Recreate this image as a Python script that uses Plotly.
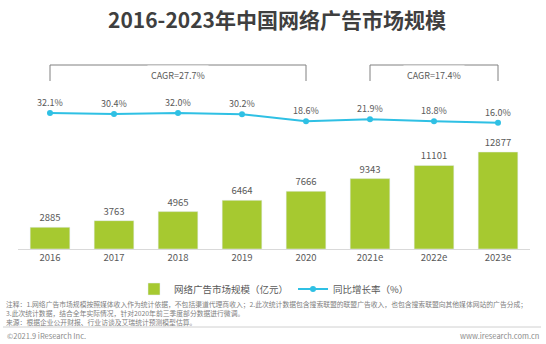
import plotly.graph_objects as go

# ---------------- data ----------------
years = ["2016", "2017", "2018", "2019", "2020", "2021e", "2022e", "2023e"]
market = [2885, 3763, 4965, 6464, 7666, 9343, 11101, 12877]
growth = [32.1, 30.4, 32.0, 30.2, 18.6, 21.9, 18.8, 16.0]
growth_labels = [f"{g:.1f}%" for g in growth]
cagr_labels = ["CAGR=27.7%", "CAGR=17.4%"]
cagr_spans = [(0, 4), (5, 7)]
title_text = "2016-2023年中国网络广告市场规模"
bar_name = "网络广告市场规模（亿元）"
line_name = "同比增长率（%）"
notes = [
    "注释：1.网络广告市场规模按照媒体收入作为统计依据，不包括渠道代理商收入；2.此次统计数据包含搜索联盟的联盟广告收入，也包含搜索联盟向其他媒体网站的广告分成；",
    "3.此次统计数据，结合全年实际情况，针对2020年前三季度部分数据进行微调。",
    "来源：根据企业公开财报、行业访谈及艾瑞统计预测模型估算。",
]
footer_left = "©2021.9 iResearch Inc."
footer_right = "www.iresearch.com.cn"

# ---------------- layout helpers ----------------
W, H = 546, 344
L, R, T, B = 18, 16, 0, 95
PW, PH = W - L - R, H - T - B
FONT = "Noto Sans CJK SC"
GRAY = "#595959"
GREEN = "#A6C930"
CYAN = "#2FC0E4"


def px(x):
    return (x - L) / PW


def py(y):
    return (H - B - y) / PH


bar_px_per_unit = 97 / 12877
y_range = [0, PH / bar_px_per_unit]
g0, gs = 132.6, 0.61  # pixel of 0%, px per %
y2_range = [(g0 - (H - B)) / gs, (g0 - T) / gs]

fig = go.Figure()
fig.add_trace(go.Bar(
    x=years, y=market, name=bar_name, marker_color=GREEN,
    text=[str(v) for v in market], textposition="outside",
    textfont=dict(size=9.5, color=GRAY, family=FONT), cliponaxis=False,
    yaxis="y",
))
fig.add_trace(go.Scatter(
    x=years, y=growth, name=line_name, mode="lines+markers+text",
    line=dict(color=CYAN, width=2), marker=dict(color=CYAN, size=6),
    text=growth_labels, textposition="top center",
    textfont=dict(size=9, color=GRAY, family=FONT), cliponaxis=False,
    yaxis="y2",
))

shapes = []
annotations = []
for (a, b), lab in zip(cagr_spans, cagr_labels):
    shapes.append(dict(type="line", xref="x", yref="paper", x0=a, x1=b,
                       y0=py(65), y1=py(65), line=dict(color="#808080", width=1)))
    for xe in (a, b):
        shapes.append(dict(type="line", xref="x", yref="paper", x0=xe, x1=xe,
                           y0=py(65), y1=py(81), line=dict(color="#808080", width=1)))
    annotations.append(dict(xref="x", yref="paper", x=(a + b) / 2, y=py(65),
                            text=lab, showarrow=False, bgcolor="white",
                            borderpad=3, font=dict(size=9, color=GRAY, family=FONT)))

annotations.append(dict(xref="paper", yref="paper", x=px(4), y=py(313),
                        xanchor="left", yanchor="middle", align="left",
                        text="<br>".join(notes), showarrow=False,
                        font=dict(size=6.8, color="#808080", family=FONT)))
annotations.append(dict(xref="paper", yref="paper", x=px(5), y=py(335),
                        xanchor="left", yanchor="middle", text=footer_left, showarrow=False,
                        font=dict(size=7.5, color="#8c8c8c", family=FONT)))
annotations.append(dict(xref="paper", yref="paper", x=px(541), y=py(335),
                        xanchor="right", yanchor="middle", text=footer_right, showarrow=False,
                        font=dict(size=7.5, color="#8c8c8c", family=FONT)))
shapes.append(dict(type="line", xref="paper", yref="paper", x0=px(3), x1=px(541),
                   y0=py(327), y1=py(327), line=dict(color="#d0d0d0", width=1)))

fig.update_layout(
    width=W, height=H, margin=dict(l=L, r=R, t=T, b=B),
    paper_bgcolor="white", plot_bgcolor="white",
    font=dict(family=FONT, color=GRAY),
    title=dict(text=f"<b>{title_text}</b>", x=277 / W, xanchor="center",
               y=1 - 21 / H, yanchor="middle", yref="container",
               font=dict(size=21, color="#3f3f3f", family=FONT)),
    bargap=0.38,
    xaxis=dict(showline=True, linecolor="#d9d9d9", linewidth=1, ticks="",
               showgrid=False, tickfont=dict(size=9.5, color=GRAY, family=FONT)),
    yaxis=dict(range=y_range, visible=False, showgrid=False, zeroline=False),
    yaxis2=dict(range=y2_range, overlaying="y", visible=False, showgrid=False,
                zeroline=False),
    legend=dict(orientation="h", x=px(274), xanchor="center", y=py(289),
                yanchor="middle", font=dict(size=9.5, color=GRAY, family=FONT),
                itemwidth=30, bgcolor="rgba(0,0,0,0)"),
    showlegend=True,
    shapes=shapes, annotations=annotations,
)

fig.write_html("out.html")
